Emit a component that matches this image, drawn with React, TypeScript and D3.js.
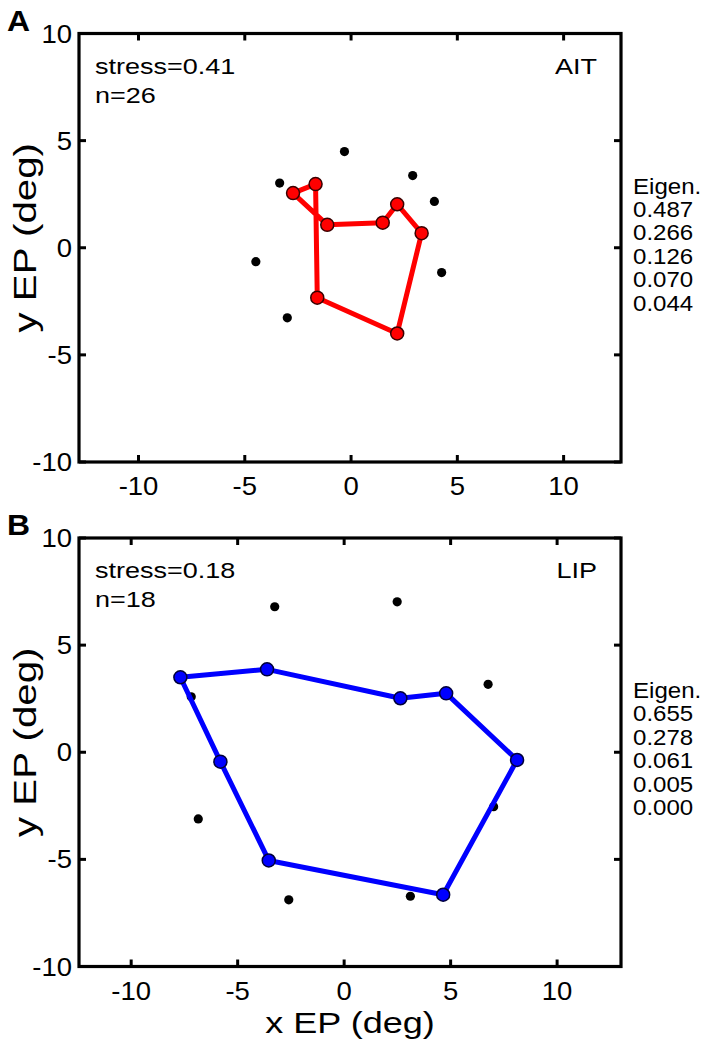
import React from "react";
import * as d3 from "d3";

// ---------- data ----------
const ticks = [-10, -5, 0, 5, 10];

const aitPathX = [-1.12, 1.49, 2.17, 3.32, 2.17, -1.59, -1.67, -2.73];
const aitPathY = [1.07, 1.17, 2.03, 0.68, -4.0, -2.33, 2.97, 2.55];
const aitOtherX = [-0.31, -3.36, 2.9, 3.92, -4.48, 4.26, -3.0];
const aitOtherY = [4.49, 3.02, 3.37, 2.16, -0.65, -1.16, -3.27];
const aitEigen = ["0.487", "0.266", "0.126", "0.070", "0.044"];

const lipPathX = [-7.69, -3.62, 2.64, 4.79, 8.12, 4.65, -3.54, -5.81];
const lipPathY = [3.5, 3.87, 2.52, 2.75, -0.36, -6.65, -5.05, -0.44];
const lipOtherX = [-3.26, 2.49, 6.76, -7.18, -6.85, 7.02, -2.6, 3.11];
const lipOtherY = [6.79, 7.02, 3.17, 2.59, -3.11, -2.54, -6.89, -6.72];
const lipEigen = ["0.655", "0.278", "0.061", "0.005", "0.000"];

const FONT = "'Liberation Sans', Arial, Helvetica, sans-serif";

function SText({ x, y, size, sx = 1, anchor = "start", rotate = 0, bold = false, children }: any) {
  return (
    <g transform={`translate(${x},${y}) rotate(${rotate}) scale(${sx},1)`}>
      <text
        textAnchor={anchor}
        fontSize={size}
        fontFamily={FONT}
        fontWeight={bold ? "bold" : "normal"}
        fill="#000"
      >
        {children}
      </text>
    </g>
  );
}

function Panel({ top, xDomain, letter, stress, n, name, px, py, ox, oy, eigen, color, edge, showXLabel }: any) {
  const left = 79;
  const right = 621;
  const bottom = top + 428.5;
  const x = d3.scaleLinear().domain(xDomain).range([left, right]);
  const y = d3.scaleLinear().domain([-10, 10]).range([bottom, top]);
  const pts: [number, number][] = px.map((v: number, i: number) => [x(v), y(py[i])]);
  const line = d3.line().curve(d3.curveLinearClosed)(pts) || "";
  const tk = 7;
  return (
    <g>
      {ticks.map((t) => (
        <g key={"x" + t} stroke="#000" strokeWidth={3}>
          <line x1={x(t)} x2={x(t)} y1={bottom} y2={bottom - tk} />
          <line x1={x(t)} x2={x(t)} y1={top} y2={top + tk} />
        </g>
      ))}
      {ticks.map((t) => (
        <g key={"y" + t} stroke="#000" strokeWidth={3}>
          <line x1={left} x2={left + tk} y1={y(t)} y2={y(t)} />
          <line x1={right} x2={right - tk} y1={y(t)} y2={y(t)} />
        </g>
      ))}
      <rect x={left} y={top} width={right - left} height={bottom - top} fill="none" stroke="#000" strokeWidth={3.2} />
      {ticks.map((t) => (
        <SText key={"xl" + t} x={x(t)} y={bottom + 33} size={25} sx={1.1} anchor="middle">
          {String(t)}
        </SText>
      ))}
      {ticks.map((t) => (
        <SText key={"yl" + t} x={72} y={y(t) + 9} size={25} sx={1.1} anchor="end">
          {String(t)}
        </SText>
      ))}
      {ox.map((v: number, i: number) => (
        <circle key={"o" + i} cx={x(v)} cy={y(oy[i])} r={4.6} fill="#000" />
      ))}
      <path d={line} fill="none" stroke={color} strokeWidth={5} strokeLinejoin="round" />
      {pts.map((p, i) => (
        <circle key={"p" + i} cx={p[0]} cy={p[1]} r={6.5} fill={color} stroke={edge} strokeWidth={1.5} />
      ))}
      <SText x={95} y={top + 40} size={22.5} sx={1.2}>{stress}</SText>
      <SText x={95} y={top + 69} size={22.5} sx={1.2}>{n}</SText>
      <SText x={597} y={top + 40} size={22.5} sx={1.2} anchor="end">{name}</SText>
      <SText x={633} y={top + 160} size={21.5} sx={1.12}>Eigen.</SText>
      {eigen.map((e: string, i: number) => (
        <SText key={"e" + i} x={633} y={top + 160 + 23.4 * (i + 1)} size={21.5} sx={1.12}>
          {e}
        </SText>
      ))}
      <SText x={36} y={(top + bottom) / 2 - 10} size={30.5} sx={1.32} rotate={-90} anchor="middle">
        y EP (deg)
      </SText>
      {showXLabel && (
        <SText x={350} y={bottom + 66} size={30} sx={1.2} anchor="middle">
          x EP (deg)
        </SText>
      )}
      <SText x={7} y={top - 3} size={29} sx={1.1} bold>{letter}</SText>
    </g>
  );
}

export default function App() {
  return (
    <svg
      width={709}
      height={1042}
      style={{ position: "absolute", left: 0, top: 0, background: "#fff" }}
    >
      <rect width={709} height={1042} fill="#fff" />
      <Panel
        top={33.5}
        xDomain={[-12.8, 12.7]}
        letter="A"
        stress="stress=0.41"
        n="n=26"
        name="AIT"
        px={aitPathX}
        py={aitPathY}
        ox={aitOtherX}
        oy={aitOtherY}
        eigen={aitEigen}
        color="#ff0000"
        edge="#3a0000"
        showXLabel={false}
      />
      <Panel
        top={538}
        xDomain={[-12.45, 13.0]}
        letter="B"
        stress="stress=0.18"
        n="n=18"
        name="LIP"
        px={lipPathX}
        py={lipPathY}
        ox={lipOtherX}
        oy={lipOtherY}
        eigen={lipEigen}
        color="#0000ff"
        edge="#00003a"
        showXLabel={true}
      />
    </svg>
  );
}
